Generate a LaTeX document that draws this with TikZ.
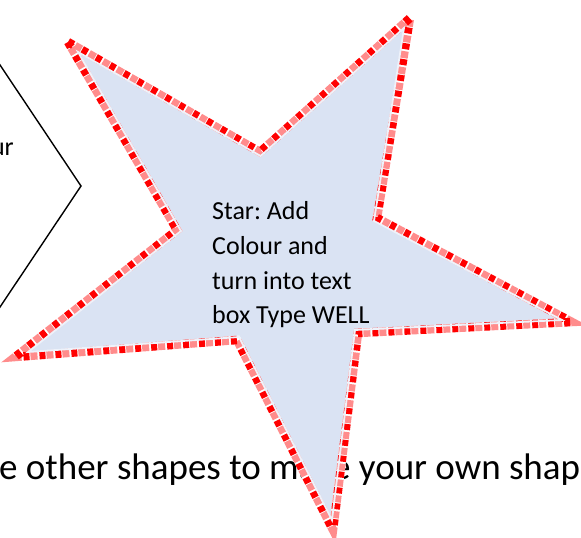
\documentclass[tikz,border=0pt]{standalone}
\usepackage{fontspec}
\setmainfont{Carlito}
\frenchspacing
\definecolor{starfill}{HTML}{DAE3F3}
\begin{document}
\begin{tikzpicture}[x=1pt,y=-1pt,
  startext/.style={anchor=base west, inner sep=0pt, font=\fontsize{26}{34}\selectfont, text=black},
  bigtext/.style={anchor=base west, inner sep=0pt, font=\fontsize{37}{44}\selectfont, text=black},
  chevron/.style={draw=black, line width=1.4pt, line join=miter},
  bandbase/.style={draw=white, line width=8.5pt, line join=miter},
  bandcheck/.style={draw=red!45, line width=8.5pt, line join=miter, dash pattern=on 7pt off 9pt, dash phase=8pt},
  bandred/.style={draw=red, line width=8.5pt, line join=miter, dash pattern=on 6pt off 10pt},
  innerline/.style={draw=white!55!starfill, line width=1.8pt, line join=miter}]
\useasboundingbox (0,0) rectangle (581,538);
\clip (0,0) rectangle (581,538);
\fill[white] (0,0) rectangle (581,538);

% bottom sentence (partly hidden by the star)
\node[bigtext] (sentence) at (-1,479) {e other shapes to make your own shap};

% left chevron shape, cut off by the left edge
\coordinate (c1) at (-2,62);
\coordinate (c2) at (81,186);
\coordinate (c3) at (-2,310);
\draw[chevron] (c1) -- (c2) -- (c3);
\node[anchor=base east, inner sep=0pt, font=\fontsize{26}{34}\selectfont] (ur) at (14,155) {ur};

% star outline points
\coordinate (s1) at (68,42);
\coordinate (s2) at (260,152);
\coordinate (s3) at (410,18);
\coordinate (s4) at (377,218);
\coordinate (s5) at (572,322);
\coordinate (s6) at (358,333);
\coordinate (s7) at (333,530);
\coordinate (s8) at (237,340);
\coordinate (s9) at (15,357);
\coordinate (s10) at (177,230);
% inset outline points
\coordinate (i1) at (78,52);
\coordinate (i2) at (260.6,156);
\coordinate (i3) at (404,28);
\coordinate (i4) at (374,221);
\coordinate (i5) at (562,320);
\coordinate (i6) at (355,330);
\coordinate (i7) at (332,520);
\coordinate (i8) at (239,337);
\coordinate (i9) at (28,352);
\coordinate (i10) at (181,231);

\fill[starfill] (s1)--(s2)--(s3)--(s4)--(s5)--(s6)--(s7)--(s8)--(s9)--(s10)--cycle;
\draw[bandbase] (s1)--(s2)--(s3)--(s4)--(s5)--(s6)--(s7)--(s8)--(s9)--(s10)--cycle;
\draw[bandcheck] (s1)--(s2)--(s3)--(s4)--(s5)--(s6)--(s7)--(s8)--(s9)--(s10)--cycle;
\draw[bandred] (s1)--(s2)--(s3)--(s4)--(s5)--(s6)--(s7)--(s8)--(s9)--(s10)--cycle;
\draw[innerline] (i1)--(i2)--(i3)--(i4)--(i5)--(i6)--(i7)--(i8)--(i9)--(i10)--cycle;

% star text
\node[startext] (t1) at (212,219) {Star: Add};
\node[startext] (t2) at (212,254) {Colour and};
\node[startext] (t3) at (212,289) {turn into text};
\node[startext] (t4) at (212,323) {box Type WELL};
\end{tikzpicture}
\end{document}
